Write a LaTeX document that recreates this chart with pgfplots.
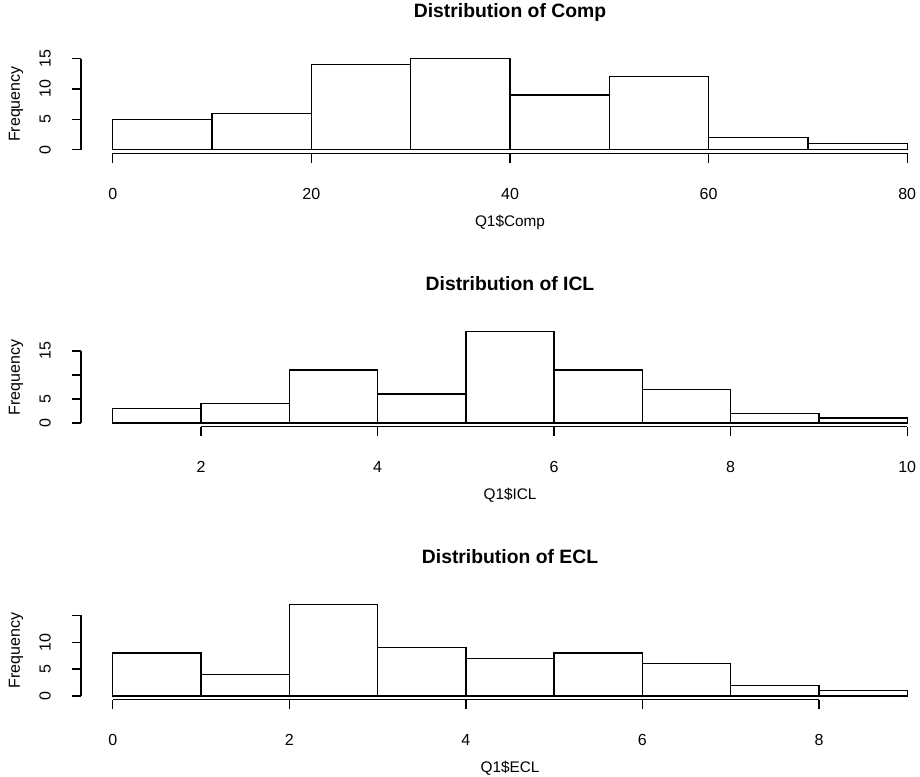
\documentclass[border=0pt]{standalone}
\usepackage{pgfplots}
\pgfplotsset{compat=1.18}
\usepackage{fontspec}
\setmainfont{Liberation Sans}

% R-style hist panel: axis lines only between first and last tick
\pgfplotsset{
  rhist/.style={
    scale only axis, width=643.5pt, height=73.9pt,
    anchor=south west, clip=false,
    axis line style={draw=none},
    xtick pos=bottom, ytick pos=left, tick align=outside,
    major tick length=7pt, minor tick num=0,
    tick style={black, line width=1.05pt},
    /pgf/number format/assume math mode=true,
    ticklabel style={font=\fontsize{12}{14}\selectfont, inner sep=0pt},
    xticklabel style={anchor=base, yshift=-27.5pt},
    yticklabel style={xshift=-15.75pt, rotate=90, anchor=base},
    ytick={0,5,10,15},
    title style={at={([yshift=22pt]axis description cs:0.5,1)}, anchor=base,
      font=\bfseries\fontsize{14.5}{17}\selectfont},
    every axis x label/.style={at={([yshift=-55pt]axis description cs:0.5,0)},
      anchor=base, font=\fontsize{11.5}{14}\selectfont},
    every axis y label/.style={at={([xshift=-45.75pt]axis description cs:0,0.5)},
      rotate=90, anchor=base, font=\fontsize{12}{14}\selectfont},
    ylabel={Frequency},
  },
  bars/.style={ybar interval, draw=black, fill=white, line width=1.05pt},
}
\tikzset{rline/.style={line width=1.05pt, black}}

\begin{document}
\begin{tikzpicture}
\useasboundingbox (0pt,0pt) rectangle (690pt,582.75pt);
\clip (0pt,0pt) rectangle (690pt,582.75pt);

% Comp
\begin{axis}[rhist, at={(60.75pt,467.7pt)},
  xmin=-3.2, xmax=83.2, ymin=-0.6, ymax=15.6,
  xtick={0,20,40,60,80},
  title={Distribution of Comp}, xlabel={Q1\$Comp}]
\addplot[bars] coordinates {(0,5) (10,6) (20,14) (30,15) (40,9) (50,12) (60,2) (70,1) (80,0)};
\draw[rline] (axis cs:0,-0.6) -- (axis cs:80,-0.6);
\draw[rline] (axis cs:-3.2,0) -- (axis cs:-3.2,15);
\end{axis}

% ICL
\begin{axis}[rhist, at={(60.75pt,262.8pt)},
  xmin=0.64, xmax=10.36, ymin=-0.76, ymax=19.76,
  xtick={2,4,6,8,10}, yticklabels={0,5,,15},
  title={Distribution of ICL}, xlabel={Q1\$ICL}]
\addplot[bars] coordinates {(1,3) (2,4) (3,11) (4,6) (5,19) (6,11) (7,7) (8,2) (9,1) (10,0)};
\draw[rline] (axis cs:2,-0.76) -- (axis cs:10,-0.76);
\draw[rline] (axis cs:0.64,0) -- (axis cs:0.64,15);
\end{axis}

% ECL
\begin{axis}[rhist, at={(60.75pt,58.05pt)},
  xmin=-0.36, xmax=9.36, ymin=-0.68, ymax=17.68,
  xtick={0,2,4,6,8}, yticklabels={0,5,10,},
  title={Distribution of ECL}, xlabel={Q1\$ECL}]
\addplot[bars] coordinates {(0,8) (1,4) (2,17) (3,9) (4,7) (5,8) (6,6) (7,2) (8,1) (9,0)};
\draw[rline] (axis cs:0,-0.68) -- (axis cs:8,-0.68);
\draw[rline] (axis cs:-0.36,0) -- (axis cs:-0.36,15);
\end{axis}
\end{tikzpicture}
\end{document}
